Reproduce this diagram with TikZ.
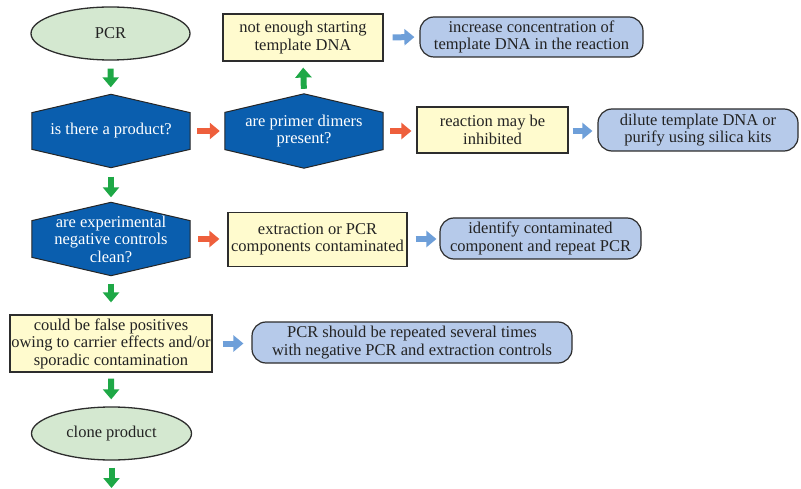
\documentclass[tikz,border=0pt]{standalone}
\usepackage{fontspec}
\newfontfamily\diagfont{Liberation Serif}
\usetikzlibrary{shapes.geometric,arrows.meta,backgrounds,calc}
\definecolor{ellfill}{RGB}{212,232,208}
\definecolor{hexfill}{RGB}{10,94,174}
\definecolor{yelfill}{RGB}{255,251,206}
\definecolor{rbfill}{RGB}{182,202,234}
\definecolor{garr}{RGB}{30,168,70}
\definecolor{rarr}{RGB}{238,95,60}
\definecolor{barr}{RGB}{110,159,217}
\definecolor{edge}{RGB}{45,45,45}
\definecolor{txt}{RGB}{35,35,35}
\tikzset{
  ell/.style={ellipse, draw=edge, line width=1.3pt, fill=ellfill, text=txt, inner sep=0pt},
  hexnode/.style={rectangle, inner sep=0pt, text=white, align=center},
  hexline/.style={draw=black!85, line width=1pt, fill=hexfill},
  ybox/.style={rectangle, draw=edge, line width=1.2pt, fill=yelfill, text=txt, inner sep=0pt, align=center},
  rbox/.style={rectangle, rounded corners=14pt, draw=edge, line width=1.2pt, fill=rbfill, text=txt, inner sep=0pt, align=center},
  blk/.style={line width=6pt, -{Triangle[length=10pt,width=16pt]}},
  garrow/.style={blk, draw=garr},
  rarrow/.style={blk, draw=rarr},
  barrow/.style={blk, draw=barr},
}
\newcommand\hexpath[1]{\path[hexline] (#1.north) -- ($(#1.north east)!0.25!(#1.south east)$) -- ($(#1.north east)!0.75!(#1.south east)$) -- (#1.south) -- ($(#1.north west)!0.75!(#1.south west)$) -- ($(#1.north west)!0.25!(#1.south west)$) -- cycle;}
\begin{document}
\begin{tikzpicture}[x=1pt,y=-1pt,font=\diagfont\fontsize{16.5}{17.5}\selectfont]
\useasboundingbox (0,0) rectangle (801,489);
% row 1
\node[ell, minimum width=159pt, minimum height=53pt] (pcr) at (110.5,33.5) {PCR};
\node[ybox, minimum width=160pt, minimum height=47pt] (few) at (303,37.5) {not enough starting\\template DNA};
\node[rbox, minimum width=223pt, minimum height=40pt] (inc) at (531.5,37) {increase concentration of\\template DNA in the reaction};
% row 2
\node[hexnode, minimum width=158pt, minimum height=73pt] (q1) at (111,131) {is there a product?};
\node[hexnode, minimum width=158pt, minimum height=74pt] (q2) at (304,131) {are primer dimers\\present?};
\node[ybox, minimum width=151pt, minimum height=46pt] (inh) at (492.5,130) {reaction may be\\inhibited};
\node[rbox, minimum width=200pt, minimum height=42pt] (dil) at (698,130) {dilute template DNA or\\purify using silica kits};
% row 3
\node[hexnode, minimum width=158pt, minimum height=73pt] (q3) at (111,239) {are experimental\\negative controls\\clean?};
\node[ybox, minimum width=179pt, minimum height=54pt] (con) at (317.5,239.5) {extraction or PCR\\components contaminated};
\node[rbox, minimum width=201pt, minimum height=41pt] (idc) at (540.5,238.5) {identify contaminated\\component and repeat PCR};
% row 4
\node[ybox, minimum width=202pt, minimum height=57pt] (fp) at (111,343.5) {could be false positives\\owing to carrier effects and/or\\sporadic contamination};
\node[rbox, minimum width=320pt, minimum height=41pt] (rep) at (412,342.5) {PCR should be repeated several times\\with negative PCR and extraction controls};
% row 5
\node[ell, minimum width=160pt, minimum height=53pt] (clo) at (111.5,433.5) {clone product};
\coordinate (endc) at (111.5,489);
\begin{scope}[on background layer]
\hexpath{q1}
\hexpath{q2}
\hexpath{q3}
\end{scope}
% arrows
\draw[garrow, shorten <=8pt, shorten >=7pt] (pcr) -- (q1);
\draw[garrow, shorten <=5pt, shorten >=6pt] (q2.north) -- (few.south);
\draw[barrow, shorten <=9pt, shorten >=5pt] (few.east) -- (inc.west);
\draw[rarrow, shorten <=7pt, shorten >=5pt] (q1.east) -- (q2.west);
\draw[rarrow, shorten <=7pt, shorten >=5pt] (q2.east) -- (q2.east -| inh.west);
\draw[barrow, shorten <=4pt, shorten >=5pt] (inh.east |- q2.east) -- (q2.east -| dil.west);
\draw[garrow, shorten <=9pt, shorten >=5pt] (q1.south) -- (q3.north);
\draw[rarrow, shorten <=8pt, shorten >=8pt] (q3.east) -- (q3.east -| con.west);
\draw[barrow, shorten <=8pt, shorten >=3pt] (con.east |- q3.east) -- (q3.east -| idc.west);
\draw[garrow, shorten <=8pt, shorten >=12pt] (q3.south) -- (fp.north);
\draw[barrow, shorten <=10pt, shorten >=8pt] (fp.east) -- (fp.east -| rep.west);
\draw[garrow, shorten <=6pt, shorten >=7pt] (fp.south) -- (clo);
\draw[garrow, shorten <=7pt, shorten >=1pt] (clo) -- (endc);
\end{tikzpicture}
\end{document}
